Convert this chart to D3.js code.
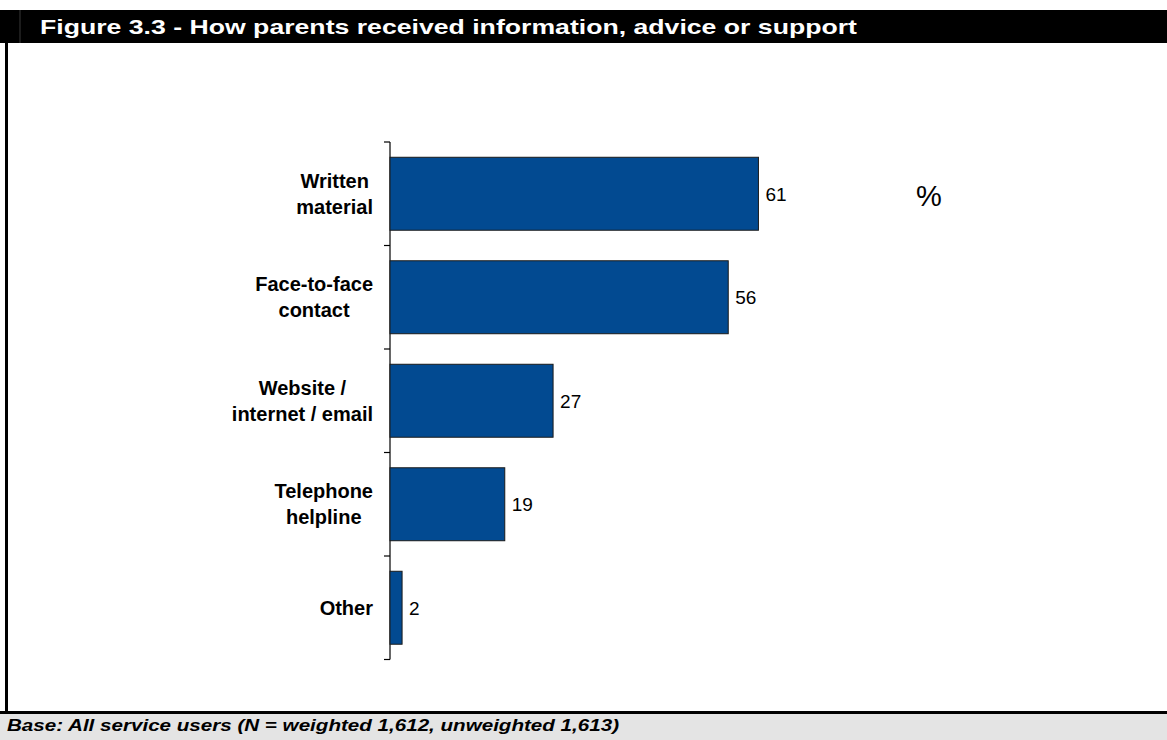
<!DOCTYPE html>
<html>
<head>
<meta charset="utf-8">
<script src="https://cdn.jsdelivr.net/npm/d3@7"></script>
<style>
  html, body { margin: 0; padding: 0; background: #ffffff; }
  svg { display: block; font-family: Arial, "Liberation Sans", sans-serif; }
</style>
</head>
<body>
<svg id="chart" width="1167" height="740"></svg>
<script>
// Survey result: share of parents (%) by channel of information/advice/support
const categories = ["Written material", "Face-to-face contact", "Website / internet / email", "Telephone helpline", "Other"];
const categoryLines = [["Written", "material"], ["Face-to-face", "contact"], ["Website /", "internet / email"], ["Telephone", "helpline"], ["Other"]];
const values = [61, 56, 27, 19, 2];

const titleText = "Figure 3.3 - How parents received information, advice or support";
const footerText = "Base: All service users (N = weighted 1,612, unweighted 1,613)";
const unitText = "%";

const W = 1167, H = 740;
const svg = d3.select("#chart");

// Frame: black title strip, left rule, bottom rule and grey base note band
svg.append("rect").attr("x", 0).attr("y", 10).attr("width", W).attr("height", 33).attr("fill", "#000");
svg.append("rect").attr("x", 19).attr("y", 10).attr("width", 2).attr("height", 33).attr("fill", "#1c1c1c");
svg.append("rect").attr("x", 5).attr("y", 43).attr("width", 3).attr("height", 670).attr("fill", "#000");
svg.append("rect").attr("x", 0).attr("y", 711).attr("width", W).attr("height", 3).attr("fill", "#000");
svg.append("rect").attr("x", 0).attr("y", 714).attr("width", W).attr("height", 26).attr("fill", "#e4e4e4");

// Title, stretched to the width of the strip text
const title = svg.append("text")
  .attr("x", 40).attr("y", 34)
  .attr("fill", "#fff").attr("font-weight", "bold").attr("font-size", 20.5)
  .text(titleText);
title.attr("textLength", 817).attr("lengthAdjust", "spacingAndGlyphs");

const footer = svg.append("text")
  .attr("x", 7).attr("y", 731)
  .attr("fill", "#000").attr("font-weight", "bold").attr("font-style", "italic").attr("font-size", 17)
  .text(footerText);
footer.attr("textLength", 612).attr("lengthAdjust", "spacingAndGlyphs");

// Scales
const x = d3.scaleLinear().domain([0, 100]).range([390, 994]);
const y = d3.scaleBand().domain(categories).range([142, 659.5]).paddingInner(0.295).paddingOuter(0.1475);

// Category axis with ticks between the bands
const axisG = svg.append("g");
axisG.append("line")
  .attr("x1", x(0)).attr("x2", x(0))
  .attr("y1", y.range()[0]).attr("y2", y.range()[1])
  .attr("stroke", "#000").attr("stroke-width", 1.2);
d3.range(categories.length + 1).forEach(i => {
  const ty = y.range()[0] + i * y.step();
  axisG.append("line")
    .attr("x1", x(0) - 6).attr("x2", x(0))
    .attr("y1", ty).attr("y2", ty)
    .attr("stroke", "#000").attr("stroke-width", 1.2);
});

// Bars
svg.append("g").selectAll("rect")
  .data(values)
  .join("rect")
  .attr("x", x(0))
  .attr("y", (d, i) => y(categories[i]))
  .attr("width", d => x(d) - x(0))
  .attr("height", y.bandwidth())
  .attr("fill", "#024a91")
  .attr("stroke", "#1a1a1a")
  .attr("stroke-width", 1);

// Value labels
svg.append("g").selectAll("text")
  .data(values)
  .join("text")
  .attr("x", d => x(d) + 7)
  .attr("y", (d, i) => y(categories[i]) + y.bandwidth() / 2 + 7)
  .attr("font-size", 19)
  .attr("fill", "#000")
  .text(d => d);

// Category labels: wrapped lines, centred on the longest line, right edge near the axis
const labelRight = 373;
const lineH = 26;
categoryLines.forEach((lines, i) => {
  const cy = y(categories[i]) + y.bandwidth() / 2;
  const g = svg.append("g");
  const texts = lines.map((ln, j) => g.append("text")
    .attr("font-weight", "bold").attr("font-size", 20).attr("fill", "#000")
    .attr("text-anchor", "middle")
    .attr("y", cy + 7 + (j - (lines.length - 1) / 2) * lineH)
    .text(ln));
  const maxW = d3.max(texts, t => t.node().getComputedTextLength());
  texts.forEach(t => t.attr("x", labelRight - maxW / 2));
});

// Unit marker
svg.append("text")
  .attr("x", 916).attr("y", 206)
  .attr("font-size", 29).attr("fill", "#000")
  .text(unitText);
</script>
</body>
</html>
